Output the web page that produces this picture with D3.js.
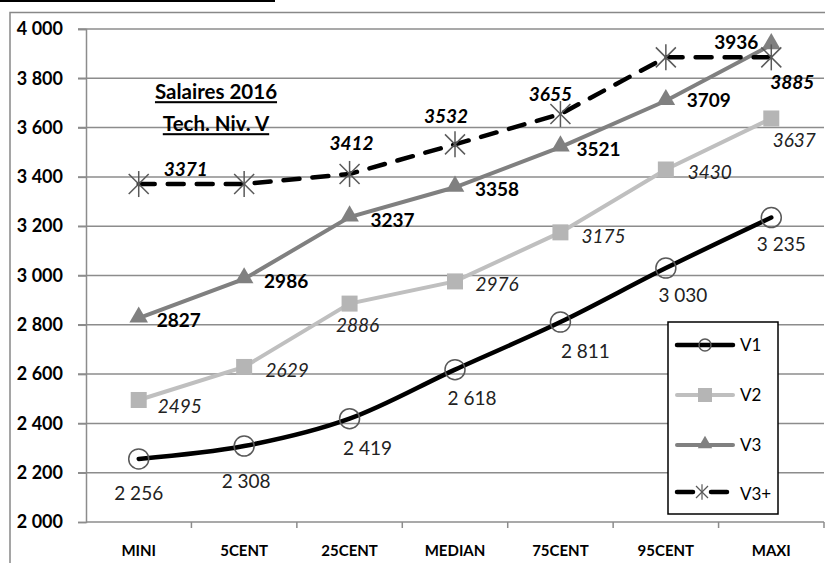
<!DOCTYPE html>
<html><head><meta charset="utf-8">
<script src="https://cdn.jsdelivr.net/npm/d3@7"></script>
<style>
body{margin:0;background:#fff;}
svg{display:block;font-family:Lato,"Open Sans",sans-serif;}
</style></head>
<body><svg id="c" width="825" height="563"></svg>
<script>
const categories = ["MINI","5CENT","25CENT","MEDIAN","75CENT","95CENT","MAXI"];
const v1 = [2256,2308,2419,2618,2811,3030,3235];
const v2 = [2495,2629,2886,2976,3175,3430,3637];
const v3 = [2827,2986,3237,3358,3521,3709,3936];
const v3plus = [3371,3371,3412,3532,3655,3885,3885];
const v3plusShown = [true,false,true,true,true,false,true];
const yTicks = [2000,2200,2400,2600,2800,3000,3200,3400,3600,3800,4000];
const seriesNames = ["V1","V2","V3","V3+"];
const titleLines = ["Salaires 2016","Tech. Niv. V"];

// label offsets (layout)
const off1 = [[0,34],[2,35],[18,30],[17,29],[25,29],[17,27],[10,27]];
const off2 = [[41,6],[43,3],[8,22],[42,3],[43,4],[44,3],[23,22]];
const off3 = [[40,2],[42,2],[43,3],[42,2],[38,2],[43,0],[-35,-2]];
const off4 = [[47,-15],[0,0],[2,-31],[-9,-28],[-10,-20],[0,0],[21,25]];

const svg = d3.select("#c");
const L=86,R=824,T=29,B=522;
const x = d3.scaleBand().domain(categories).range([L,R]).padding(0);
const cx = d => x(d)+x.bandwidth()/2;
const y = d3.scaleLinear().domain([2000,4000]).range([B,T]);
const loc = d3.formatLocale({thousands:" ",grouping:[3],decimal:",",currency:["",""]});
const fmt = loc.format(",");

// top black rule and chart border
svg.append("rect").attr("x",0).attr("y",0).attr("width",275).attr("height",2).attr("fill","#000");
svg.append("rect").attr("x",10).attr("y",12.5).attr("width",830).attr("height",570)
  .attr("fill","none").attr("stroke","#888").attr("stroke-width",1.5);

// gridlines
svg.append("g").selectAll("line").data(yTicks.filter(d=>d>2000)).join("line")
  .attr("x1",78).attr("x2",R).attr("y1",d=>y(d)).attr("y2",d=>y(d))
  .attr("stroke","#8c8c8c").attr("stroke-width",1.5);

// y axis
const ya = svg.append("g").attr("transform",`translate(${L},0)`)
  .call(d3.axisLeft(y).tickValues(yTicks).tickFormat(fmt).tickSize(8).tickPadding(15));
ya.select(".domain").attr("stroke","#8c8c8c").attr("stroke-width",1.5);
ya.selectAll(".tick line").attr("stroke","#8c8c8c").attr("stroke-width",1.5);
ya.selectAll(".tick text").attr("font-family","Lato").attr("font-weight","bold").attr("font-size",18).attr("fill","#000");

// x axis
svg.append("line").attr("x1",L).attr("x2",R).attr("y1",B).attr("y2",B).attr("stroke","#8c8c8c").attr("stroke-width",1.5);
const bounds = categories.map(c=>x(c)).concat([R]);
svg.append("g").selectAll("line").data(bounds.slice(1)).join("line")
  .attr("x1",d=>d).attr("x2",d=>d).attr("y1",B).attr("y2",B+6).attr("stroke","#8c8c8c").attr("stroke-width",1.5);
svg.append("g").selectAll("text").data(categories).join("text")
  .attr("x",d=>cx(d)).attr("y",551).attr("dy","0.35em").attr("text-anchor","middle")
  .attr("font-weight","bold").attr("font-size",15).attr("fill","#000").text(d=>d);

// title
const tg = svg.append("g");
titleLines.forEach((t,i)=>{
  tg.append("text").attr("x",216).attr("y",92+i*32).attr("dy","0.35em").attr("text-anchor","middle")
    .attr("font-weight","bold").attr("font-size",20.5).attr("text-decoration","underline").attr("fill","#000").text(t);
});

const lineLin = d3.line().x((d,i)=>cx(categories[i])).y(d=>y(d));
const lineSmooth = d3.line().x((d,i)=>cx(categories[i])).y(d=>y(d)).curve(d3.curveCatmullRom.alpha(0));

// V2
svg.append("path").attr("d",lineLin(v2)).attr("fill","none").attr("stroke","#bfbfbf").attr("stroke-width",4);
svg.append("g").selectAll("rect").data(v2).join("rect")
  .attr("x",(d,i)=>cx(categories[i])-8).attr("y",d=>y(d)-8).attr("width",16).attr("height",16).attr("fill","#b5b5b5");
// V3
svg.append("path").attr("d",lineLin(v3)).attr("fill","none").attr("stroke","#808080").attr("stroke-width",4);
const tri = d3.symbol().type(d3.symbolTriangle).size(150);
svg.append("g").selectAll("path").data(v3).join("path")
  .attr("d",tri).attr("transform",(d,i)=>`translate(${cx(categories[i])},${y(d)-1})`).attr("fill","#808080");
// V1
svg.append("path").attr("d",lineSmooth(v1)).attr("fill","none").attr("stroke","#000").attr("stroke-width",4.5).attr("stroke-linecap","round");
svg.append("g").selectAll("circle").data(v1).join("circle")
  .attr("cx",(d,i)=>cx(categories[i])).attr("cy",d=>y(d)).attr("r",10)
  .attr("fill","none").attr("stroke","#595959").attr("stroke-width",1.5);
// V3+
svg.append("path").attr("d",lineLin(v3plus)).attr("fill","none").attr("stroke","#000").attr("stroke-width",4.5)
  .attr("stroke-dasharray","16 13").attr("stroke-linecap","round");
function star(g,px,py,s){
  g.append("line").attr("x1",px-s).attr("x2",px+s).attr("y1",py-s).attr("y2",py+s);
  g.append("line").attr("x1",px-s).attr("x2",px+s).attr("y1",py+s).attr("y2",py-s);
  g.append("line").attr("x1",px).attr("x2",px).attr("y1",py-s*1.3).attr("y2",py+s*1.3);
}
const sg = svg.append("g").attr("stroke","#595959").attr("stroke-width",1.5);
v3plus.forEach((d,i)=>star(sg,cx(categories[i]),y(d),10));

// labels
function labels(data,offs,style){
  svg.append("g").selectAll("text").data(data).join("text")
    .attr("x",(d,i)=>cx(categories[i])+offs[i][0]).attr("y",(d,i)=>y(d)+offs[i][1])
    .attr("dy","0.35em").attr("text-anchor","middle").attr("font-size",19)
    .attr("font-weight",style.w).attr("font-style",style.s).attr("fill",style.c)
    .text(d=>style.f(d));
}
labels(v1,off1,{w:"normal",s:"normal",c:"#222",f:fmt});
labels(v2,off2,{w:"normal",s:"italic",c:"#222",f:d=>d});
labels(v3,off3,{w:"bold",s:"normal",c:"#000",f:d=>d});
const v3pl = v3plus.map((d,i)=>({d,i})).filter(o=>v3plusShown[o.i]);
svg.append("g").selectAll("text").data(v3pl).join("text")
  .attr("x",o=>cx(categories[o.i])+off4[o.i][0]).attr("y",o=>y(o.d)+off4[o.i][1])
  .attr("dy","0.35em").attr("text-anchor","middle").attr("font-size",19)
  .attr("font-weight","bold").attr("font-style","italic").attr("fill","#000").text(o=>o.d);

// legend
const lg = svg.append("g");
lg.append("rect").attr("x",668).attr("y",322).attr("width",110).attr("height",192)
  .attr("fill","#fff").attr("stroke","#000").attr("stroke-width",1.5);
const ly = [345,395,445,492];
// V1
lg.append("line").attr("x1",677).attr("x2",733).attr("y1",ly[0]).attr("y2",ly[0]).attr("stroke","#000").attr("stroke-width",4.5).attr("stroke-linecap","round");
lg.append("circle").attr("cx",705).attr("cy",ly[0]).attr("r",6).attr("fill","none").attr("stroke","#595959").attr("stroke-width",1.5);
// V2
lg.append("line").attr("x1",677).attr("x2",733).attr("y1",ly[1]).attr("y2",ly[1]).attr("stroke","#bfbfbf").attr("stroke-width",4).attr("stroke-linecap","round");
lg.append("rect").attr("x",698).attr("y",ly[1]-7).attr("width",14).attr("height",14).attr("fill","#b5b5b5");
// V3
lg.append("line").attr("x1",677).attr("x2",733).attr("y1",ly[2]).attr("y2",ly[2]).attr("stroke","#808080").attr("stroke-width",4).attr("stroke-linecap","round");
lg.append("path").attr("d",d3.symbol().type(d3.symbolTriangle).size(90)).attr("transform",`translate(705,${ly[2]-1})`).attr("fill","#808080");
// V3+
lg.append("line").attr("x1",677).attr("x2",693).attr("y1",ly[3]).attr("y2",ly[3]).attr("stroke","#000").attr("stroke-width",4.5).attr("stroke-linecap","round");
lg.append("line").attr("x1",711).attr("x2",727).attr("y1",ly[3]).attr("y2",ly[3]).attr("stroke","#000").attr("stroke-width",4.5).attr("stroke-linecap","round");
const lsg = lg.append("g").attr("stroke","#595959").attr("stroke-width",1.2);
star(lsg,702,ly[3],6);
lg.selectAll("text.lt").data(seriesNames).join("text").attr("class","lt")
  .attr("x",740).attr("y",(d,i)=>ly[i]+(i===3?2:0)).attr("dy","0.35em").attr("font-size",17).attr("fill","#000").text(d=>d);
</script></body></html>
